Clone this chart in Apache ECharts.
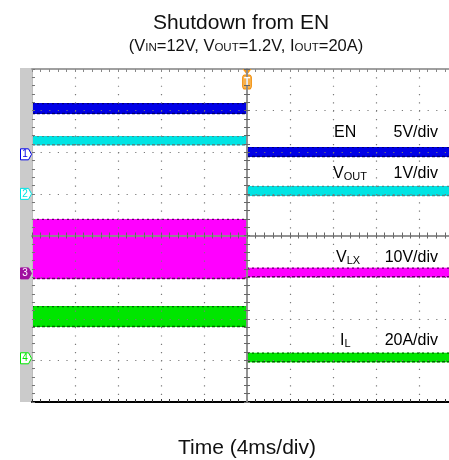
<!DOCTYPE html>
<html><head><meta charset="utf-8">
<script src="https://cdn.jsdelivr.net/npm/echarts@6/dist/echarts.min.js"></script>
<style>html,body{margin:0;padding:0;background:#fff}#c{width:449px;height:460px}</style>
</head><body><div id="c"></div><script>
// ---- data (channel units) ----
const CHANNEL_NAMES = ['EN', 'VOUT', 'VLX', 'IL'];
const CHANNEL_NUM = ['1', '2', '3', '4'];
const SCALE_LABELS = ['5V/div', '1V/div', '10V/div', '20A/div'];
const UNITS_PER_DIV = [5, 1, 10, 20];
const GROUND_DIV = [1.95, 1.0, -0.91, -2.95];
const SEG_START = [-20, 0];   // ms
const SEG_END = [0, 20];      // ms
const EN_LOW = [4.84, -0.32], EN_HIGH = [6.16, 0.88];
const VOUT_LOW = [1.17, -0.05], VOUT_HIGH = [1.39, 0.19];
const VLX_LOW = [-1.35, -0.94], VLX_HIGH = [13.07, 1.37];
const IL_LOW = [15.0, -1.9], IL_HIGH = [25.1, 2.7];
const TIME_MIN = -20, TIME_MAX = 20, TIME_PER_DIV = 4;
const DIV_MIN = -4, DIV_MAX = 4;

const FONT = '"Liberation Sans", Arial, sans-serif';
const FILL = ['#0000e6', '#00e4e4', '#ff00ff', '#00e600'];
const EDGE = ['#000070', '#4a8a8a', '#660066', '#006a00'];

function toDiv(ch, v) { return GROUND_DIV[ch] + v / UNITS_PER_DIV[ch]; }
function bandData(ch, lo, hi) {
  return SEG_START.map((s, i) => [s, SEG_END[i], toDiv(ch, lo[i]), toDiv(ch, hi[i])]);
}
const LOWS = [EN_LOW, VOUT_LOW, VLX_LOW, IL_LOW];
const HIGHS = [EN_HIGH, VOUT_HIGH, VLX_HIGH, IL_HIGH];

function bandRender(ch) {
  return function (params, api) {
    const a = api.coord([api.value(0), api.value(3)]);
    const b = api.coord([api.value(1), api.value(2)]);
    const x = a[0], y = a[1], w = b[0] - a[0], h = b[1] - a[1];
    return {
      type: 'group', children: [
        { type: 'rect', shape: { x: x, y: y, width: w, height: h }, style: { fill: FILL[ch] } },
        { type: 'line', shape: { x1: x, y1: y + 0.5, x2: x + w, y2: y + 0.5 }, style: { stroke: EDGE[ch], lineWidth: 1.2, lineDash: [2, 3] } },
        { type: 'line', shape: { x1: x, y1: y + h - 0.5, x2: x + w, y2: y + h - 0.5 }, style: { stroke: EDGE[ch], lineWidth: 1.5, lineDash: [3, 2] } }
      ]
    };
  };
}

const markerPath = 'path://M0,0 L8,0 L11,5 L8,10 L0,10 Z';
const series = CHANNEL_NAMES.map((name, ch) => {
  const s = {
    type: 'custom', name: name, xAxisIndex: 0, yAxisIndex: 0, z: 2,
    renderItem: bandRender(ch),
    encode: { x: [0, 1], y: [2, 3] },
    data: bandData(ch, LOWS[ch], HIGHS[ch]),
    markPoint: {
      silent: true,
      data: [{
        coord: [TIME_MIN, GROUND_DIV[ch]],
        symbol: markerPath, symbolSize: [11, 11], symbolOffset: [-6, 0],
        itemStyle: ch === 2 ? { color: '#a010a0', borderColor: '#a010a0', borderWidth: 1 }
                            : { color: '#ffffff', borderColor: FILL[ch], borderWidth: 1 },
        label: { show: true, formatter: CHANNEL_NUM[ch], position: 'inside', offset: [-1, 0],
                 color: ch === 2 ? '#ffffff' : FILL[ch], fontSize: 10, fontFamily: FONT }
      }]
    }
  };
  if (ch === 0) {
    s.markPoint.data.push(
      { coord: [0, DIV_MAX], symbol: 'triangle', symbolRotate: 180, symbolSize: [9, 6], symbolOffset: [0, 3],
        itemStyle: { color: '#f59a1a' }, label: { show: false } },
      { coord: [0, DIV_MAX], symbol: 'roundRect', symbolSize: [9, 14], symbolOffset: [0, 13],
        itemStyle: { color: '#f8b04a', borderColor: '#f08a00', borderWidth: 1 },
        label: { show: true, formatter: 'T', position: 'inside', color: '#fff', fontSize: 10, fontWeight: 'bold', fontFamily: FONT } }
    );
  }
  return s;
});

const minor = (len, color) => ({ show: true, splitNumber: 5, length: len, lineStyle: { color: color, width: 1 } });
const hidden = { show: false };

const option = {
  animation: false,
  backgroundColor: '#ffffff',
  title: [
    { text: 'Shutdown from EN', left: 236, top: 8, textAlign: 'center',
      textStyle: { fontSize: 21, fontWeight: 'normal', color: '#111', fontFamily: FONT } },
    { text: '(V{s|IN}=12V, V{s|OUT}=1.2V, I{s|OUT}=20A)', left: 241, top: 33, textAlign: 'center',
      textStyle: { fontSize: 16.5, lineHeight: 16, fontWeight: 'normal', color: '#111', fontFamily: FONT,
        rich: { s: { fontSize: 11.5, lineHeight: 7, verticalAlign: 'bottom', color: '#111', fontFamily: FONT } } } }
  ],
  grid: [
    { left: 32, top: 69, width: 430, height: 333, containLabel: false, outerBoundsMode: 'none' },
    { left: 32, top: 69, width: 430, height: 333, containLabel: false, outerBoundsMode: 'none' }
  ],
  xAxis: [
    { type: 'value', gridIndex: 0, min: TIME_MIN, max: TIME_MAX, interval: TIME_PER_DIV, position: 'bottom', z: 3,
      name: 'Time (4ms/div)', nameLocation: 'middle', nameGap: 36,
      nameTextStyle: { fontSize: 21, color: '#111', fontFamily: FONT },
      axisLine: { show: true, onZero: false, lineStyle: { color: '#000', width: 2 } },
      axisTick: { show: true, inside: true, length: 3, lineStyle: { color: '#333' } },
      minorTick: minor(3, '#333'), axisLabel: hidden,
      splitLine: { show: true, lineStyle: { color: '#7a7a7a', width: 1.2, type: [1.2, 7.125] } } },
    { type: 'value', gridIndex: 0, min: TIME_MIN, max: TIME_MAX, interval: TIME_PER_DIV, position: 'top', z: 3,
      axisLine: { show: true, onZero: false, lineStyle: { color: '#a0a0a0', width: 2 } },
      axisTick: { show: true, inside: true, length: 3, lineStyle: { color: '#888' } },
      minorTick: minor(3, '#888'), axisLabel: hidden, splitLine: hidden },
    { type: 'value', gridIndex: 1, min: TIME_MIN, max: TIME_MAX, interval: TIME_PER_DIV, position: 'bottom', z: 5,
      axisLine: { show: true, onZero: true, lineStyle: { color: '#8c8c8c', width: 1.5 } },
      axisTick: { show: true, inside: true, length: 3, lineStyle: { color: '#666' } },
      minorTick: minor(3, '#666'), axisLabel: hidden, splitLine: hidden },
    { type: 'value', gridIndex: 1, min: TIME_MIN, max: TIME_MAX, interval: TIME_PER_DIV, position: 'top', z: 5,
      axisLine: { show: true, onZero: true, lineStyle: { color: '#8c8c8c', width: 1.5 } },
      axisTick: { show: true, inside: true, length: 3, lineStyle: { color: '#666' } },
      minorTick: minor(3, '#666'), axisLabel: hidden, splitLine: hidden }
  ],
  yAxis: [
    { type: 'value', gridIndex: 0, min: DIV_MIN, max: DIV_MAX, interval: 1, position: 'left', z: 3,
      axisLine: { show: true, onZero: false, lineStyle: { color: '#bdbdbd', width: 1 } },
      axisTick: { show: true, inside: true, length: 3, lineStyle: { color: '#777' } },
      minorTick: minor(3, '#777'), axisLabel: hidden,
      splitLine: { show: true, lineStyle: { color: '#7a7a7a', width: 1.2, type: [1.2, 7.4] } } },
    { type: 'value', gridIndex: 1, min: DIV_MIN, max: DIV_MAX, interval: 1, position: 'left', z: 5,
      axisLine: { show: true, onZero: true, lineStyle: { color: '#8c8c8c', width: 1.5 } },
      axisTick: { show: true, inside: true, length: 3, lineStyle: { color: '#666' } },
      minorTick: minor(3, '#666'), axisLabel: hidden, splitLine: hidden },
    { type: 'value', gridIndex: 1, min: DIV_MIN, max: DIV_MAX, interval: 1, position: 'right', z: 5,
      axisLine: { show: true, onZero: true, lineStyle: { color: '#8c8c8c', width: 1.5 } },
      axisTick: { show: true, inside: true, length: 3, lineStyle: { color: '#666' } },
      minorTick: minor(3, '#666'), axisLabel: hidden, splitLine: hidden }
  ],
  graphic: [
    { type: 'rect', z: 0, shape: { x: 20, y: 68, width: 12, height: 334 }, style: { fill: '#cbcbcb' } }
  ],
  series: series
};

// channel labels
const LABEL_Y = [133, 174, 258, 341];
const LABEL_X = [334, 333, 336, 340];
const LABEL_TEXT = ['EN', 'V{s|OUT}', 'V{s|LX}', 'I{s|L}'];
LABEL_TEXT.forEach((t, i) => {
  option.graphic.push({ type: 'text', z: 10, x: LABEL_X[i], y: LABEL_Y[i],
    style: { text: t, fontSize: 16, lineHeight: 16, fontFamily: FONT, fill: '#000', verticalAlign: 'middle', align: 'left',
      rich: { s: { fontSize: 11, lineHeight: 7, verticalAlign: 'bottom', fontFamily: FONT, fill: '#000' } } } });
  option.graphic.push({ type: 'text', z: 10, x: 438, y: LABEL_Y[i],
    style: { text: SCALE_LABELS[i], fontSize: 16, fontFamily: FONT, fill: '#000', verticalAlign: 'middle', align: 'right' } });
});

const chart = echarts.init(document.getElementById('c'), null, { renderer: 'canvas' });
chart.setOption(option);
</script></body></html>
